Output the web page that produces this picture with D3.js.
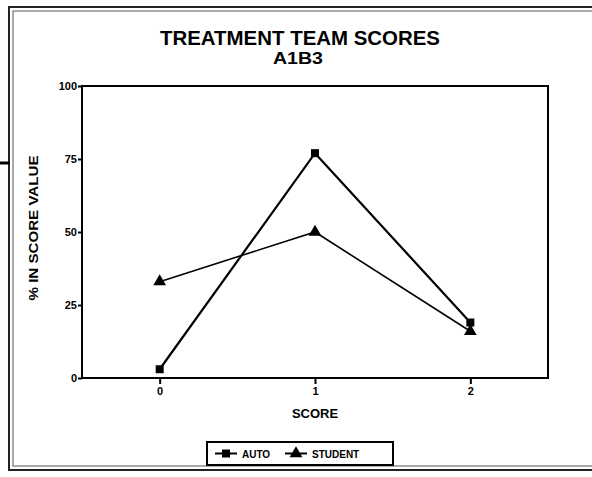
<!DOCTYPE html>
<html>
<head>
<style>
  body { margin: 0; background: #fff; }
  text { font-family: "Liberation Sans", Arial, sans-serif; font-weight: bold; fill: #000; }
</style>
</head>
<body>
<svg width="592" height="477"></svg>
<script src="https://d3js.org/d3.v7.min.js"></script>
<script>
var scores = [0, 1, 2];
var auto = [3, 77, 19];
var student = [33, 50, 16];
var yTicks = [0, 25, 50, 75, 100];

var svg = d3.select("svg");

// outer double frame
svg.append("rect").attr("x", 9).attr("y", 7).attr("width", 590).attr("height", 463)
  .attr("fill", "none").attr("stroke", "#222").attr("stroke-width", 2);
svg.append("rect").attr("x", 13).attr("y", 11).attr("width", 590).attr("height", 455)
  .attr("fill", "none").attr("stroke", "#555").attr("stroke-width", 1);
svg.append("line").attr("x1", 0).attr("x2", 10).attr("y1", 163).attr("y2", 163)
  .attr("stroke", "#000").attr("stroke-width", 3);

var x = d3.scaleLinear().domain([-0.5, 2.5]).range([82, 548]),
    y = d3.scaleLinear().domain([0, 100]).range([378, 86]);

svg.append("text").attr("x", 300).attr("y", 44.5).attr("text-anchor", "middle")
  .style("font-size", "20px").attr("textLength", 280).attr("lengthAdjust", "spacingAndGlyphs")
  .text("TREATMENT TEAM SCORES");
svg.append("text").attr("x", 298).attr("y", 64).attr("text-anchor", "middle")
  .style("font-size", "17px").attr("textLength", 50).attr("lengthAdjust", "spacingAndGlyphs")
  .text("A1B3");

// plot frame
svg.append("rect").attr("x", x(-0.5)).attr("y", y(100))
  .attr("width", x(2.5) - x(-0.5)).attr("height", y(0) - y(100))
  .attr("fill", "none").attr("stroke", "#000").attr("stroke-width", 2);

var gy = svg.append("g").attr("transform", "translate(" + x(-0.5) + ",0)")
  .call(d3.axisLeft(y).tickValues(yTicks).tickSize(4).tickPadding(1));
var gx = svg.append("g").attr("transform", "translate(0," + y(0) + ")")
  .call(d3.axisBottom(x).tickValues(scores).tickFormat(d3.format("d")).tickSize(6).tickPadding(3));
[gy, gx].forEach(function(g) {
  g.select(".domain").remove();
  g.selectAll("line").attr("stroke", "#000").attr("stroke-width", 2);
  g.selectAll("text").style("font-size", "11px").style("font-family", "Liberation Sans, Arial").style("font-weight", "bold");
});

svg.append("text").attr("transform", "translate(38,228) rotate(-90)")
  .attr("text-anchor", "middle").style("font-size", "12px")
  .attr("textLength", 145).attr("lengthAdjust", "spacingAndGlyphs").text("% IN SCORE VALUE");
svg.append("text").attr("x", 315).attr("y", 418).attr("text-anchor", "middle")
  .style("font-size", "13px").text("SCORE");

var line = d3.line().x(function(d, i) { return x(scores[i]); }).y(function(d) { return y(d); });

svg.append("path").datum(auto).attr("d", line)
  .attr("fill", "none").attr("stroke", "#000").attr("stroke-width", 2.2);
svg.append("path").datum(student).attr("d", line)
  .attr("fill", "none").attr("stroke", "#000").attr("stroke-width", 1.6);

var sq = d3.symbol().type(d3.symbolSquare).size(64),
    tri = d3.symbol().type(d3.symbolTriangle).size(70);

svg.selectAll(".auto").data(auto).enter().append("path")
  .attr("transform", function(d, i) { return "translate(" + x(scores[i]) + "," + y(d) + ")"; })
  .attr("d", sq).attr("fill", "#000");
svg.selectAll(".student").data(student).enter().append("path")
  .attr("transform", function(d, i) { return "translate(" + x(scores[i]) + "," + y(d) + ")"; })
  .attr("d", tri).attr("fill", "#000");

// legend
var lg = svg.append("g").attr("transform", "translate(207,442)");
lg.append("rect").attr("width", 186).attr("height", 23)
  .attr("fill", "#fff").attr("stroke", "#000").attr("stroke-width", 2);
var items = [{ name: "AUTO", sym: sq, dx: 8 }, { name: "STUDENT", sym: tri, dx: 78 }];
items.forEach(function(it) {
  lg.append("line").attr("x1", it.dx).attr("x2", it.dx + 22).attr("y1", 11.5).attr("y2", 11.5)
    .attr("stroke", "#000").attr("stroke-width", 2);
  lg.append("path").attr("transform", "translate(" + (it.dx + 11) + ",11.5)")
    .attr("d", it.sym).attr("fill", "#000");
  lg.append("text").attr("x", it.dx + 27).attr("y", 15.5).style("font-size", "10px").text(it.name);
});
</script>
</body>
</html>
